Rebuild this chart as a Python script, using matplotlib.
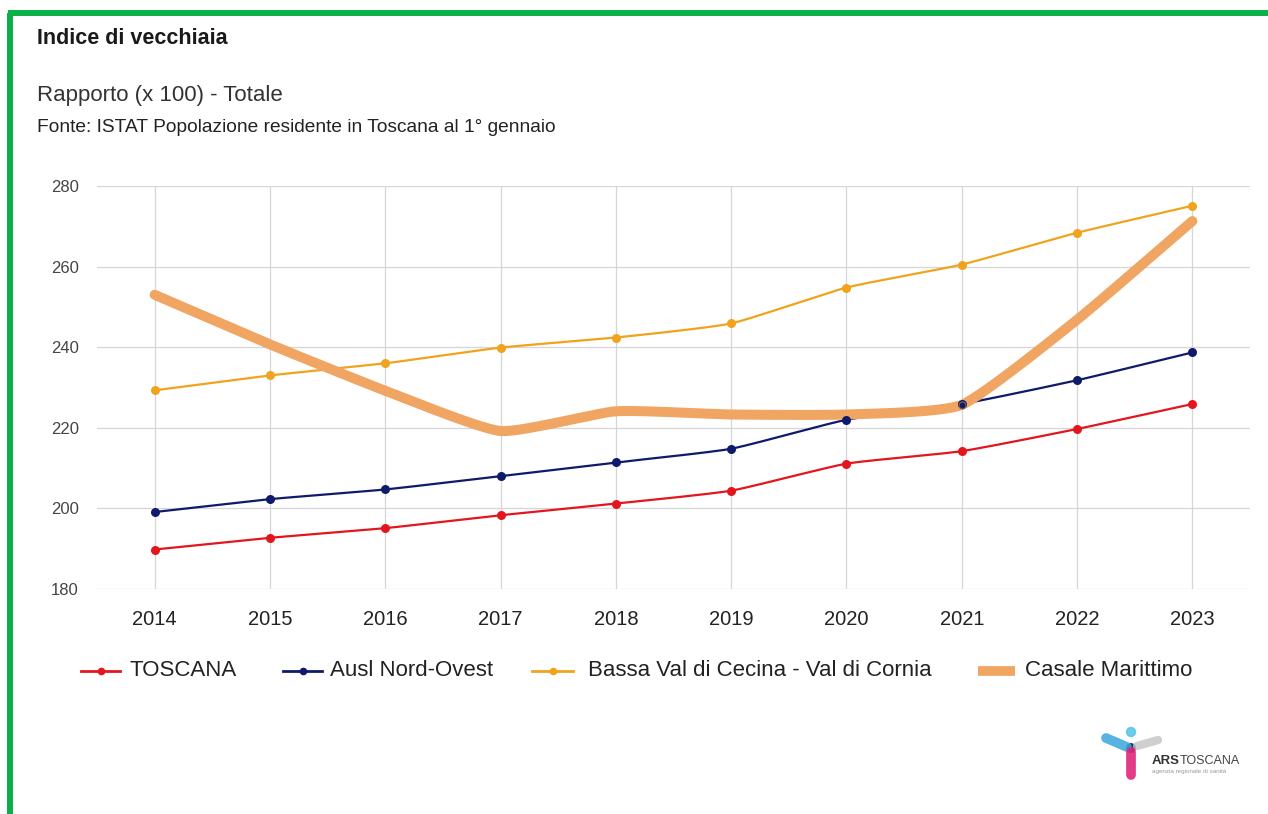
import numpy as np
import matplotlib
matplotlib.use("Agg")
import matplotlib.pyplot as plt
from matplotlib.lines import Line2D
from matplotlib.patches import Circle

plt.rcParams['font.family'] = ['Liberation Sans', 'DejaVu Sans']

# ---- data ----
years = ["2014", "2015", "2016", "2017", "2018", "2019", "2020", "2021", "2022", "2023"]
toscana = [189.8, 192.7, 195.1, 198.3, 201.2, 204.4, 211.1, 214.2, 219.7, 225.9]
ausl_nord_ovest = [199.1, 202.3, 204.7, 208.0, 211.4, 214.8, 222.0, 225.9, 231.8, 238.7]
bassa_val_cecina = [229.3, 233.0, 236.0, 239.9, 242.4, 245.9, 254.8, 260.5, 268.4, 275.1]
casale_marittimo = [253.0, 240.7, 229.2, 219.2, 224.1, 223.3, 223.3, 225.7, 246.8, 271.3]
series_names = ["TOSCANA", "Ausl Nord-Ovest", "Bassa Val di Cecina - Val di Cornia", "Casale Marittimo"]
y_ticks = [180, 200, 220, 240, 260, 280]

colors = ["#e3161e", "#101a6a", "#f0a31c", "#f1a563"]

W, H = 1268, 814


def smooth(xs, ys, k=0.085, n=30):
    """Cubic Bezier curve through the points; k scales the tangent handles."""
    p = np.column_stack([xs, ys]).astype(float)
    out = []
    for i in range(len(p) - 1):
        p0 = p[max(i - 1, 0)]
        p1 = p[i]
        p2 = p[i + 1]
        p3 = p[min(i + 2, len(p) - 1)]
        c1 = p1 + (p2 - p0) * k
        c2 = p2 - (p3 - p1) * k
        t = np.linspace(0, 1, n)[:, None]
        seg = ((1 - t) ** 3) * p1 + 3 * ((1 - t) ** 2) * t * c1 + 3 * (1 - t) * t ** 2 * c2 + t ** 3 * p2
        out.append(seg if i == 0 else seg[1:])
    s = np.vstack(out)
    return s[:, 0], s[:, 1]


fig = plt.figure(figsize=(W / 100, H / 100), dpi=100)
fig.patch.set_facecolor("white")

ax = fig.add_axes([97 / W, 1 - 589 / H, (1250 - 97) / W, (589 - 186) / H])
x = np.arange(len(years))

ax.set_xlim(-0.5, len(years) - 0.5)
ax.set_ylim(180, 280)
ax.set_yticks(y_ticks)
ax.set_yticklabels([str(v) for v in y_ticks], color="#444444", fontsize=12)
ax.set_xticks(x)
ax.set_xticklabels(years, color="#222222", fontsize=14.5)
ax.tick_params(axis="y", length=0, pad=13)
ax.tick_params(axis="x", length=0, pad=15)
for s in ax.spines.values():
    s.set_visible(False)
ax.grid(True, color="#d6d6d6", linewidth=0.9)
ax.set_axisbelow(True)

# thin series with point markers
for vals, c in zip([toscana, ausl_nord_ovest, bassa_val_cecina], colors[:3]):
    sx, sy = smooth(x, vals)
    ax.plot(sx, sy, color=c, lw=1.6, zorder=3, solid_capstyle="round")
    ax.plot(x, vals, "o", color=c, ms=6.5, zorder=6, markeredgewidth=0)

# thick line for the municipality
sx, sy = smooth(x, casale_marittimo)
ax.plot(sx, sy, color=colors[3], lw=7.2, zorder=4, solid_capstyle="round", solid_joinstyle="round")
ax.plot([x[7]], [casale_marittimo[7]], "o", ms=5, mfc="none", mec="#7a6a5a", mew=0.8, zorder=7)

# ---- titles ----
fig.text(37 / W, 1 - 38 / H, "Indice di vecchiaia", fontsize=15.5, fontweight="bold",
         color="#1a1a1a", va="center", ha="left")
fig.text(37 / W, 1 - 96 / H, "Rapporto (x 100) - Totale", fontsize=16,
         color="#333333", va="center", ha="left")
fig.text(37 / W, 1 - 128 / H, "Fonte: ISTAT Popolazione residente in Toscana al 1° gennaio",
         fontsize=13.8, color="#222222", va="center", ha="left")

# ---- legend ----
leg_y = 1 - 671 / H
keys = [(81, 120, 130), (283, 322, 330), (532, 573, 588), (978, 1015, 1025)]
for i, ((x0, x1, tx), name) in enumerate(zip(keys, series_names)):
    if i < 3:
        fig.add_artist(Line2D([x0 / W, x1 / W], [leg_y, leg_y], color=colors[i], lw=2))
        fig.add_artist(Line2D([(x0 + x1) / 2 / W], [leg_y], marker="o", color=colors[i],
                              ms=5.5, markeredgewidth=0))
    else:
        fig.add_artist(Line2D([x0 / W, x1 / W], [leg_y, leg_y], color=colors[i], lw=7,
                              solid_capstyle="butt"))
    fig.text(tx / W, leg_y, name, fontsize=16, color="#222222", va="center", ha="left")

# ---- logo ----
lax = fig.add_axes([0, 0, 1, 1], zorder=10)
lax.set_xlim(0, W)
lax.set_ylim(H, 0)
lax.axis("off")
lax.patch.set_alpha(0)
lax.plot([1106, 1127], [738, 747], color="#3aa7dc", lw=7, solid_capstyle="round", alpha=0.85)
lax.plot([1137, 1158], [746, 740], color="#c4c4c4", lw=6, solid_capstyle="round", alpha=0.8)
lax.plot([1131, 1131], [752, 775], color="#e0267a", lw=7, solid_capstyle="round", alpha=0.9)
lax.add_patch(Circle((1131, 732), 4.5, color="#55c3e6", alpha=0.85))
lax.add_patch(Circle((1131, 748), 4.2, color="#1c2a5c"))
lax.text(1152, 761, "ARS", fontsize=9.5, fontweight="bold", color="#333333", va="center", ha="left")
lax.text(1180, 761, "TOSCANA", fontsize=9, color="#444444", va="center", ha="left")
lax.text(1152, 771, "agenzia regionale di sanità", fontsize=4.5, color="#999999", va="center", ha="left")

# ---- green frame ----
lax.plot([10, 10], [H + 5, 13], color="#0aaf48", lw=4.3, solid_capstyle="butt")
lax.plot([7.8, W + 5], [13, 13], color="#0aaf48", lw=4.3, solid_capstyle="butt")

fig.savefig("out.png", dpi=100, facecolor="white")
